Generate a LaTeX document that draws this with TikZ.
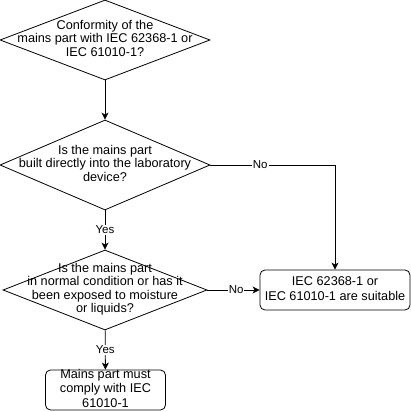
\documentclass[tikz,border=0pt]{standalone}
\usepackage{fontspec}
\setmainfont{Liberation Sans}
\usepackage{tikz}
\usetikzlibrary{arrows.meta}
\usetikzlibrary{shapes.geometric}

% text that does not widen its shape
\newcommand{\flattext}[1]{\smash{\makebox[0pt]{\raisebox{-3pt}{\begin{tabular}{@{}c@{}}#1\end{tabular}}}}}

\begin{document}
\begin{tikzpicture}[
        x=1pt, y=1pt,
        decision/.style={diamond, draw=black, line width=0.8pt, inner sep=0pt, font=\fontsize{12.7}{13.5}\selectfont},
        result/.style={rectangle, rounded corners=5pt, draw=black, line width=0.8pt, inner sep=0pt, font=\fontsize{12.7}{14.5}\selectfont},
        arrow/.style={-{Stealth[length=7pt, width=7pt, inset=2pt]}, line width=0.8pt},
        edgelabel/.style={fill=white, inner sep=1pt, font=\fontsize{11.5}{12}\selectfont}
    ]
    \useasboundingbox (0,0) rectangle (411,412);

    % Preguntas
    \node[decision, minimum width=210, minimum height=80] (conform) at (105,372)
        {\flattext{Conformity of the\\mains part with IEC 62368-1 or\\IEC 61010-1?}};
    \node[decision, minimum width=210, minimum height=90] (builtin) at (105,247)
        {\flattext{Is the mains part\\built directly into the laboratory\\device?}};
    \node[decision, minimum width=204, minimum height=80] (condition) at (105,122)
        {\flattext{Is the mains part\\in normal condition or has it\\been exposed to moisture\\or liquids?}};

    % Resultados
    \node[result, minimum width=150, minimum height=40] (suitable) at (335,122)
        {\flattext{IEC 62368-1 or\\IEC 61010-1 are suitable}};
    \node[result, minimum width=120, minimum height=40] (comply) at (105.5,22)
        {\flattext{Mains part must\\comply with IEC\\61010-1}};

    % Conexiones
    \draw[arrow] (conform) -- (builtin);
    \draw[arrow] (builtin) -- node[edgelabel] {Yes} (condition);
    \draw[arrow] (builtin) -| node[edgelabel, pos=0.2] {No} (suitable);
    \draw[arrow] (condition) -- node[edgelabel, pos=0.55] {No} (suitable);
    \draw[arrow] (condition) -- node[edgelabel] {Yes} (comply);

\end{tikzpicture}
\end{document}
